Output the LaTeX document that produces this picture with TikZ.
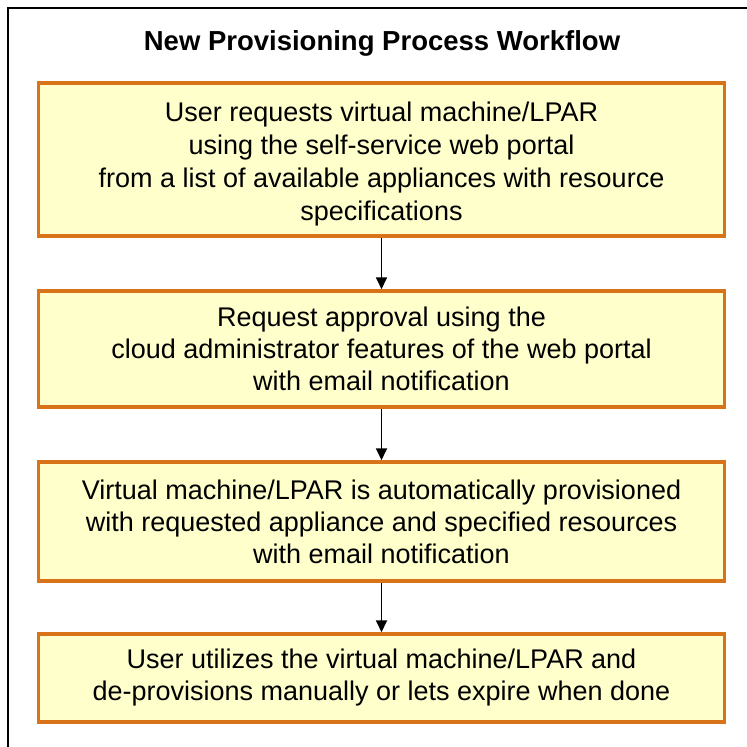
\documentclass[tikz,border=0pt]{standalone}
\usepackage{fontspec}
\setmainfont{Liberation Sans}
\usetikzlibrary{arrows.meta}
\definecolor{boxfill}{HTML}{FFFFCC}
\definecolor{boxedge}{HTML}{D9731A}
\tikzset{
  stepbox/.style={draw=boxedge, line width=3.5pt, fill=boxfill, minimum width=686pt, inner sep=0pt},
  steptext/.style={align=center, font=\fontsize{27}{32}\selectfont, inner sep=0pt},
  flow/.style={-{Triangle[length=12pt,width=11pt]}, line width=1.8pt, black}
}
\begin{document}
\begin{tikzpicture}[x=1pt,y=-1pt]
\useasboundingbox (0,0) rectangle (747,747);
% outer frame
\draw[line width=2pt] (8,800) -- (8,8) -- (800,8);
\node[font=\bfseries\fontsize{27.5}{30}\selectfont] (title) at (382,43) {New Provisioning Process Workflow};
% step boxes
\node[stepbox, minimum height=153pt] (s1) at (381.5,159.5) {};
\node[stepbox, minimum height=116pt] (s2) at (381.5,349) {};
\node[stepbox, minimum height=119pt] (s3) at (381.5,521.5) {};
\node[stepbox, minimum height=88pt] (s4) at (381.5,678) {};
% step texts
\node[steptext, font=\fontsize{27}{33}\selectfont] (t1) at ([yshift=-5pt]s1.center)
  {User requests virtual machine/LPAR\\using the self-service web portal\\from a list of available appliances with resource\\specifications};
\node[steptext] (t2) at (s2.center)
  {Request approval using the\\cloud administrator features of the web portal\\with email notification};
\node[steptext] (t3) at (s3.center)
  {Virtual machine/LPAR is automatically provisioned\\with requested appliance and specified resources\\with email notification};
\node[steptext] (t4) at (s4.center)
  {User utilizes the virtual machine/LPAR and\\de-provisions manually or lets expire when done};
% connectors
\draw[flow] (s1) -- (s2);
\draw[flow] (s2) -- (s3);
\draw[flow] (s3) -- (s4);
\end{tikzpicture}
\end{document}
